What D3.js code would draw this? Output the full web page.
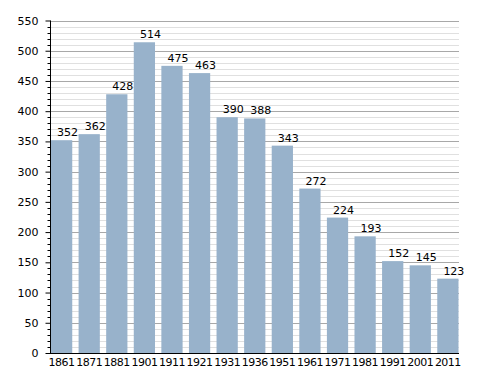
<!DOCTYPE html>
<html>
<head>
<meta charset="utf-8">
<script src="https://cdn.jsdelivr.net/npm/d3@7"></script>
<style>
body { margin: 0; background: #fff; }
text { font-family: "DejaVu Sans", sans-serif; font-size: 11px; fill: #000; }
</style>
</head>
<body>
<script>
// census years and population
var years = ["1861", "1871", "1881", "1901", "1911", "1921", "1931", "1936", "1951", "1961", "1971", "1981", "1991", "2001", "2011"];
var values = [352, 362, 428, 514, 475, 463, 390, 388, 343, 272, 224, 193, 152, 145, 123];
var yTicks = [0, 50, 100, 150, 200, 250, 300, 350, 400, 450, 500, 550];

var width = 488, height = 373;
var plotLeft = 50, plotRight = 459, plotTop = 20.5, plotBottom = 353;

var svg = d3.select("body").append("svg")
    .attr("width", width).attr("height", height);

var x = d3.scaleBand().domain(years).range([51, 458.5]).paddingInner(0.23).paddingOuter(0);
var y = d3.scaleLinear().domain([0, 550]).range([plotBottom, plotTop]);

function py(d) { return Math.round(y(d)) + 0.5; }

// minor grid every 10
var minor = d3.range(0, 551, 10).filter(function(d) { return d % 50 != 0; });
svg.append("g").selectAll("line").data(minor).enter().append("line")
    .attr("x1", plotLeft).attr("x2", plotRight)
    .attr("y1", py).attr("y2", py)
    .attr("stroke", "#e0e0e0");

// major grid
svg.append("g").selectAll("line").data(yTicks.slice(1)).enter().append("line")
    .attr("x1", plotLeft).attr("x2", plotRight)
    .attr("y1", py).attr("y2", py)
    .attr("stroke", "#a8a8a8");

// bars
svg.append("g").selectAll("rect").data(values).enter().append("rect")
    .attr("x", function(d, i) { return x(years[i]); })
    .attr("width", x.bandwidth())
    .attr("y", function(d) { return y(d); })
    .attr("height", function(d) { return plotBottom - y(d); })
    .attr("fill", "#98b2cb");

// value labels
svg.append("g").selectAll("text").data(values).enter().append("text")
    .attr("x", function(d, i) { return x(years[i]) + x.bandwidth() / 2 + 6; })
    .attr("y", function(d) { return y(d) - 4; })
    .attr("text-anchor", "middle")
    .text(function(d) { return d; });

// y axis
var yAxis = d3.axisLeft(y).tickValues(yTicks).tickSize(5).tickPadding(7);
var gy = svg.append("g").attr("transform", "translate(" + (plotLeft + 0.5) + ",0)").call(yAxis);
gy.select(".domain").remove();
gy.selectAll("text").style("font-family", "DejaVu Sans").style("font-size", "11px");

svg.append("g").selectAll("line").data(minor).enter().append("line")
    .attr("x1", plotLeft - 2.5).attr("x2", plotLeft)
    .attr("y1", py).attr("y2", py)
    .attr("stroke", "#000");

svg.append("line").attr("x1", plotLeft + 0.5).attr("x2", plotLeft + 0.5)
    .attr("y1", plotTop).attr("y2", plotBottom + 0.5).attr("stroke", "#000");
svg.append("line").attr("x1", plotLeft).attr("x2", plotRight)
    .attr("y1", plotBottom + 0.5).attr("y2", plotBottom + 0.5).attr("stroke", "#000");

// x labels (tight spacing like the original)
svg.append("g").selectAll("text").data(years).enter().append("text")
    .attr("x", function(d) { return x(d) + x.bandwidth() / 2; })
    .attr("y", plotBottom + 13)
    .attr("text-anchor", "middle")
    .style("letter-spacing", "-0.5px")
    .text(function(d) { return d; });
</script>
</body>
</html>
